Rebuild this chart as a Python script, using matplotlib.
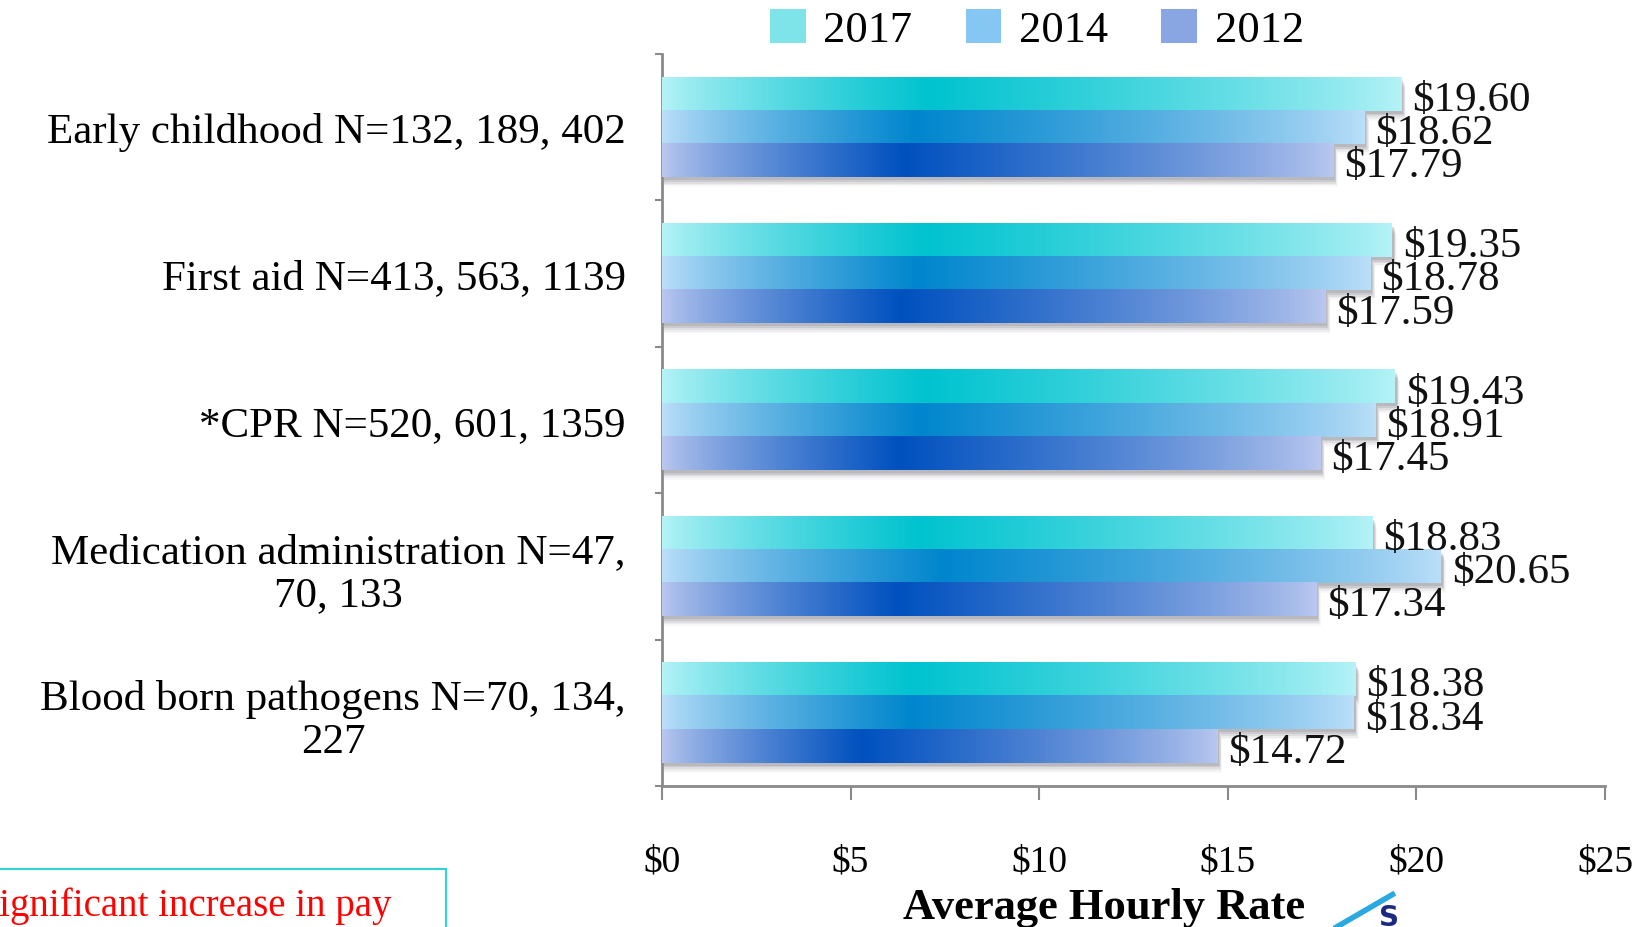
import numpy as np
import matplotlib
matplotlib.use("Agg")
import matplotlib.pyplot as plt
from matplotlib.colors import LinearSegmentedColormap
from matplotlib.patches import Patch, Rectangle

plt.rcParams['font.family'] = ['Liberation Serif', 'DejaVu Serif']

# data
categories = [
    "Early childhood N=132, 189, 402",
    "First aid N=413, 563, 1139",
    "*CPR N=520, 601, 1359",
    "Medication administration N=47,\n70, 133",
    "Blood born pathogens N=70, 134,\n227",
]
years = ["2017", "2014", "2012"]
rate_2017 = [19.60, 19.35, 19.43, 18.83, 18.38]
rate_2014 = [18.62, 18.78, 18.91, 20.65, 18.34]
rate_2012 = [17.79, 17.59, 17.45, 17.34, 14.72]
x_ticks = [0, 5, 10, 15, 20, 25]

# (edge colour, centre colour) of the gradient for each year
grad_colors = {
    "2017": ("#b6f3f7", "#00c3cf"),
    "2014": ("#bcdff9", "#0086cd"),
    "2012": ("#bac8ef", "#0051bf"),
}

fig = plt.figure(figsize=(16.46, 9.28), dpi=100)
ax = fig.add_axes([0.4022, 0.1519, 0.5729, 0.7888])

y = np.arange(len(categories))
bar_h = 0.227
series = [rate_2017, rate_2014, rate_2012]
offsets = [-bar_h, 0, bar_h]

def grad_row(n=400, c=0.36):
    t = np.linspace(0, 1, n)
    v = np.where(t < c, t / c, (1 - t) / (1 - c))
    return v ** 0.8

for yr, vals, off in zip(years, series, offsets):
    bars = ax.barh(y + off, vals, height=bar_h, color="none", edgecolor="none", zorder=3)
    cmap = LinearSegmentedColormap.from_list(yr, list(grad_colors[yr]))
    for b, v in zip(bars, vals):
        x0, y0 = b.get_x(), b.get_y()
        w, h = b.get_width(), b.get_height()
        ax.imshow(grad_row()[None, :], cmap=cmap, vmin=0, vmax=1, aspect="auto",
                  extent=(x0, x0 + w, y0 + h, y0), zorder=3, interpolation="bilinear")
        # soft drop shadow
        for k, a in enumerate([0.12, 0.10, 0.08, 0.05, 0.03]):
            ax.add_patch(Rectangle((x0 + 0.05, y0 + 0.02 + 0.012 * k), w + 0.02 * k, h,
                                   facecolor="#303040", alpha=a, edgecolor="none", zorder=2))
        ax.annotate(f"${v:.2f}", (x0 + w, y0 + h / 2), xytext=(8, -4),
                    textcoords="offset points", ha="left", va="center",
                    fontsize=31, color="#111111", zorder=5)

ax.set_xlim(0, 25)
ax.set_ylim(len(categories) - 0.5, -0.5)
ax.set_aspect("auto")

ax.set_xticks(x_ticks)
ax.set_xticklabels([f"${t}" for t in x_ticks], fontsize=27)
ax.set_yticks(y)
ax.set_yticklabels(categories, fontsize=31, multialignment="center", linespacing=1.15)
ax.tick_params(axis="x", length=10, width=1.5, color="#8a8a8a", pad=32)
ax.tick_params(axis="y", length=0, pad=26)
# ticks on category boundaries
ax.set_yticks(np.arange(len(categories) + 1) - 0.5, minor=True)
ax.tick_params(axis="y", which="minor", length=5, width=1.5, color="#8a8a8a")

for s in ["top", "right"]:
    ax.spines[s].set_visible(False)
for s in ["left", "bottom"]:
    ax.spines[s].set_color("#8a8a8a")
    ax.spines[s].set_linewidth(2)

fig.text(0.671, 0.022, "Average Hourly Rate", fontsize=32, fontweight="bold",
         ha="center", va="center")

handles = [Patch(facecolor=c, edgecolor="none") for c in ["#7fe3ea", "#86c6f2", "#8aa6e2"]]
fig.legend(handles, years, loc="center", bbox_to_anchor=(0.63, 0.967), ncol=3,
           frameon=False, fontsize=32, handlelength=0.8, handleheight=0.8,
           handletextpad=0.4, columnspacing=1.2)

# note box at bottom-left
fig.patches.append(Rectangle((-0.01, -0.05), 0.281, 0.112, transform=fig.transFigure,
                             facecolor="none", edgecolor="#2fd3dc", linewidth=1.5))
fig.text(0.238, 0.024, "*Significant increase in pay", color="red", fontsize=28,
         ha="right", va="center")

# partial logo corner
fig.lines.append(plt.Line2D([0.812, 0.846], [0.0, 0.035], transform=fig.transFigure,
                            color="#29a9e0", linewidth=4))
fig.text(0.838, -0.004, "S", color="#1a2a80", fontsize=20, fontweight="bold",
         family="DejaVu Sans", ha="left", va="bottom")

fig.savefig("out.png", dpi=100, facecolor="white")
